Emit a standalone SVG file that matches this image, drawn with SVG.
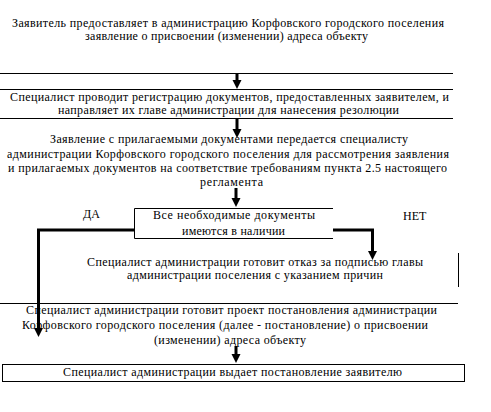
<svg xmlns="http://www.w3.org/2000/svg" width="491" height="412" viewBox="0 0 491 412">
<defs>
<style>
text{font-family:"Liberation Serif","Times New Roman",serif;font-size:12px;fill:#000}
.rule{stroke:#000;stroke-width:1;fill:none}
.con{stroke:#000;stroke-width:3;fill:none}
</style>
<marker id="ah" markerUnits="userSpaceOnUse" markerWidth="10" markerHeight="10" refX="3" refY="5" orient="auto">
<path d="M0,0.5 L9,5 L0,9.5 z" fill="#000"/>
</marker>
</defs>
<rect width="491" height="412" fill="#fff"/>
<g id="n1">
<text x="12" y="27" textLength="432" lengthAdjust="spacing">Заявитель предоставляет в администрацию Корфовского городского поселения</text>
<text x="85" y="40" textLength="283" lengthAdjust="spacing">заявление о присвоении (изменении) адреса объекту</text>
</g>
<g id="n2">
<line class="rule" x1="0" y1="73.5" x2="453" y2="73.5"/>
<line class="rule" x1="0" y1="89.5" x2="453" y2="89.5"/>
<line class="rule" x1="0" y1="118.5" x2="453" y2="118.5"/>
<text x="10" y="101" textLength="439" lengthAdjust="spacing">Специалист проводит регистрацию документов, предоставленных заявителем, и</text>
<text x="58" y="114" textLength="341" lengthAdjust="spacing">направляет их главе администрации для нанесения резолюции</text>
</g>
<g id="n3">
<text x="50" y="143" textLength="358" lengthAdjust="spacing">Заявление с прилагаемыми документами передается специалисту</text>
<text x="7" y="158" textLength="442" lengthAdjust="spacing">администрации Корфовского городского поселения для рассмотрения заявления</text>
<text x="8" y="172" textLength="439" lengthAdjust="spacing">и прилагаемых документов на соответствие требованиям пункта 2.5 настоящего</text>
<text x="200" y="186" textLength="63" lengthAdjust="spacing">регламента</text>
</g>
<g id="decision">
<path class="rule" d="M333,208.5 H134.5 V238.5 H333"/>
<text x="153" y="219" textLength="162" lengthAdjust="spacing">Все необходимые документы</text>
<text x="182" y="235" textLength="103" lengthAdjust="spacing">имеются в наличии</text>
</g>
<g id="labels">
<text x="83" y="218">ДА</text>
<text x="403" y="220">НЕТ</text>
</g>
<g id="refusal">
<line class="rule" x1="458.5" y1="253" x2="458.5" y2="287"/>
<line class="rule" x1="0" y1="303.5" x2="458" y2="303.5"/>
<text x="87" y="266" textLength="336" lengthAdjust="spacing">Специалист администрации готовит отказ за подписью главы</text>
<text x="127" y="279" textLength="256" lengthAdjust="spacing">администрации поселения с указанием причин</text>
</g>
<g id="project">
<text x="26" y="314" textLength="411" lengthAdjust="spacing">Специалист администрации готовит проект постановления администрации</text>
<text x="22" y="329" textLength="406" lengthAdjust="spacing">Корфовского городского поселения (далее - постановление) о присвоении</text>
<text x="154" y="344" textLength="152" lengthAdjust="spacing">(изменении) адреса объекту</text>
</g>
<g id="issue">
<rect class="rule" x="2.5" y="364.5" width="462" height="17"/>
<text x="63" y="376" textLength="339" lengthAdjust="spacing">Специалист администрации выдает постановление заявителю</text>
</g>
<g id="connectors">
<path class="con" d="M237,74 V83" marker-end="url(#ah)"/>
<path class="con" d="M237,119 V132" marker-end="url(#ah)"/>
<path class="con" d="M236,188 V201" marker-end="url(#ah)"/>
<path class="con" d="M134,230 H38.5 V331" marker-end="url(#ah)"/>
<path class="con" d="M333,230 H372.5 V254" marker-end="url(#ah)"/>
<path class="con" d="M236,346 V357" marker-end="url(#ah)"/>
</g>
</svg>
